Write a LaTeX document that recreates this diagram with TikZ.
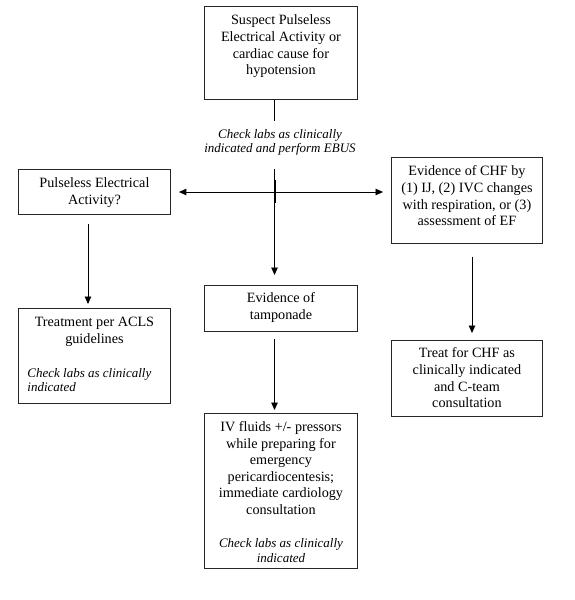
\documentclass[tikz,border=0pt]{standalone}
\usepackage{fontspec}
\setmainfont{Liberation Serif}
\usetikzlibrary{arrows.meta}
% #1 inner width, #2 height, #3 first baseline offset, #4 content
\newcommand\bxt[4]{\parbox[c][#2pt][t]{#1pt}{\centering\rule{0pt}{#3pt}#4}}
\newcommand\itnote{\fontsize{13}{14.5}\selectfont\itshape}
\tikzset{
  box/.style={draw=black!85, line width=0.9pt, inner xsep=9pt, inner ysep=0pt,
    anchor=north west, font=\fontsize{14.2}{16.6}\selectfont},
  conn/.style={line width=0.9pt, draw=black},
  tip/.tip={Triangle[length=7.5pt,width=6.5pt]},
  arr/.style={conn, -tip},
  note/.style={font=\itnote, align=center, inner sep=0pt}
}
\begin{document}
\begin{tikzpicture}[x=1pt,y=-1pt]
\useasboundingbox (0,0) rectangle (575,600);

\node[box] (top) at (204,6) {\bxt{135}{93}{18.5}{Suspect Pulseless\\Electrical Activity or\\cardiac cause for\\hypotension}};

\node[box] (pea) at (18,169) {\bxt{134}{45}{18.5}{Pulseless Electrical\\Activity?}};

\node[box] (chf) at (391,157) {\bxt{133}{86}{18.5}{Evidence of CHF by\\(1) IJ, (2) IVC changes\\with respiration, or (3)\\assessment of EF}};

\node[box] (acls) at (18,308) {\bxt{134}{95}{18}{Treatment per ACLS\\guidelines\par\vspace{19.5pt}{\raggedright\itnote Check labs as clinically\\indicated\par}}};

\node[box] (tamp) at (204,285) {\bxt{135}{46}{17.5}{Evidence of\\tamponade}};

\node[box] (fluids) at (204,413) {\bxt{135}{155}{18}{IV fluids +/- pressors\\while preparing for\\emergency\\pericardiocentesis;\\immediate cardiology\\consultation\par\vspace{19pt}{\itnote Check labs as clinically\\indicated\par}}};

\node[box] (treat) at (391,340) {\bxt{133}{76}{17.5}{Treat for CHF as\\clinically indicated\\and C-team\\consultation}};

\node[note] (check) at (280,142.5) {Check labs as clinically\\indicated and perform EBUS};

% connectors
\coordinate (a0) at (274.5,121);
\draw[conn] (top.south -| a0) -- (a0);

\coordinate (v0) at (274.5,169);
\draw[arr, shorten >=10pt] (v0) -- (v0 |- tamp.north);
\draw[line width=2pt] (v0) ++(0,11) -- ++(0,23);

\coordinate (h0) at (0,192);
\draw[conn, tip-tip, shorten <=8pt, shorten >=8pt] (pea.east |- h0) -- (chf.west |- h0);

\coordinate (l0) at (88,0);
\draw[arr, shorten <=9pt, shorten >=4pt] (l0 |- pea.south) -- (l0 |- acls.north);

\coordinate (r0) at (472,0);
\draw[arr, shorten <=13pt, shorten >=7pt] (r0 |- chf.south) -- (r0 |- treat.north);

\draw[arr, shorten <=7pt, shorten >=3pt] (a0 |- tamp.south) -- (a0 |- fluids.north);
\end{tikzpicture}
\end{document}
